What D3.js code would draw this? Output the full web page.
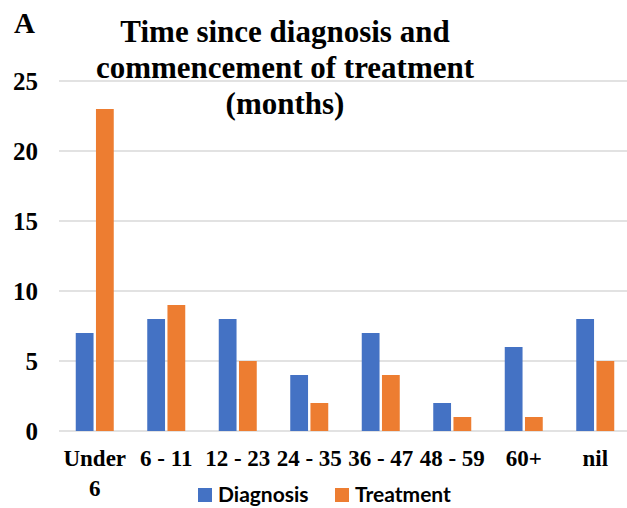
<!DOCTYPE html>
<html>
<head>
<meta charset="utf-8">
<script src="https://cdn.jsdelivr.net/npm/d3@7"></script>
<style>
  body { margin: 0; background: #fff; }
  svg { display: block; }
</style>
</head>
<body>
<div id="grafica"></div>
<script>
// datos
categorias = ['Under 6', '6 - 11', '12 - 23', '24 - 35', '36 - 47', '48 - 59', '60+', 'nil']
diagnosis  = [7, 8, 8, 4, 7, 2, 6, 8]
treatment  = [23, 9, 5, 2, 4, 1, 1, 5]
series     = ['Diagnosis', 'Treatment']
yTicks     = [0, 5, 10, 15, 20, 25]
titulo     = ['Time since diagnosis and', 'commencement of treatment', '(months)']

ancho_total = 627
alto_total  = 508
margin = { left: 59, right: -4, top: 81, bottom: 77 }
ancho = ancho_total - margin.left - margin.right
alto  = alto_total - margin.top - margin.bottom

colores = d3.scaleOrdinal().domain(series).range(['#4472C4', '#ED7D31'])

svg = d3.select('#grafica')
  .append('svg')
  .attr('width', ancho_total)
  .attr('height', alto_total)

g = svg.append('g')
  .attr('transform', `translate(${margin.left}, ${margin.top})`)

x = d3.scaleBand().domain(categorias).range([0, ancho]).paddingInner(0).paddingOuter(0)
xs = d3.scaleBand().domain(series).range([x.bandwidth() / 2 - 19, x.bandwidth() / 2 + 19]).paddingInner(0.12)
y = d3.scaleLinear().domain([0, 25]).range([alto, 0])

// lineas de cuadricula
g.append('g')
  .selectAll('line')
  .data(yTicks)
  .enter()
  .append('line')
    .attr('x1', 0)
    .attr('x2', ancho)
    .attr('y1', (d) => y(d))
    .attr('y2', (d) => y(d))
    .attr('stroke', '#d9d9d9')
    .attr('stroke-width', 1.5)

// eje Y (solo etiquetas)
yAxis = g.append('g')
  .call(d3.axisLeft(y).tickValues(yTicks).tickSize(0).tickPadding(21))
yAxis.select('.domain').remove()
yAxis.selectAll('text')
  .attr('font-family', 'Liberation Serif')
  .attr('font-weight', 'bold')
  .attr('font-size', '25px')
  .attr('fill', '#000')

// barras
datos = categorias.map((c, i) => ({ cat: c, valores: [diagnosis[i], treatment[i]] }))

grupos = g.selectAll('.grupo')
  .data(datos)
  .enter()
  .append('g')
    .attr('transform', (d) => `translate(${x(d.cat)}, 0)`)

grupos.selectAll('rect')
  .data((d) => d.valores.map((v, j) => ({ serie: series[j], v: v })))
  .enter()
  .append('rect')
    .attr('x', (d) => xs(d.serie))
    .attr('width', xs.bandwidth())
    .attr('y', (d) => y(d.v))
    .attr('height', (d) => y(0) - y(d.v))
    .attr('fill', (d) => colores(d.serie))

// etiquetas X
xLabels = g.append('g')
  .attr('transform', `translate(0, ${alto})`)
  .selectAll('text')
  .data(categorias)
  .enter()
  .append('text')
    .attr('x', (d) => x(d) + x.bandwidth() / 2)
    .attr('y', 35)
    .attr('text-anchor', 'middle')
    .attr('font-family', 'Liberation Serif')
    .attr('font-weight', 'bold')
    .attr('font-size', '23px')
    .attr('fill', '#000')

xLabels.each(function (d) {
  partes = d === 'Under 6' ? ['Under', '6'] : [d]
  t = d3.select(this)
  partes.forEach((p, k) => {
    t.append('tspan')
      .attr('x', x(d) + x.bandwidth() / 2)
      .attr('dy', k === 0 ? 0 : 30)
      .text(p)
  })
})

// titulo
svg.append('text')
  .attr('x', 236)
  .attr('y', 42)
  .attr('text-anchor', 'middle')
  .attr('font-family', 'Liberation Serif')
  .attr('font-weight', 'bold')
  .attr('font-size', '31px')
  .attr('fill', '#000')
  .selectAll('tspan')
  .data(titulo)
  .enter()
  .append('tspan')
    .attr('x', 285)
    .attr('dy', (d, i) => i === 0 ? 0 : 36)
    .text((d) => d)

svg.append('text')
  .attr('x', 14)
  .attr('y', 33)
  .attr('font-family', 'Liberation Serif')
  .attr('font-weight', 'bold')
  .attr('font-size', '29px')
  .attr('fill', '#000')
  .text('A')

// leyenda
leyenda = svg.append('g')
  .attr('transform', 'translate(198, 495)')

items = leyenda.selectAll('g')
  .data(series)
  .enter()
  .append('g')
    .attr('transform', (d, i) => `translate(${i * 137}, 0)`)

items.append('rect')
  .attr('x', 0)
  .attr('y', -7)
  .attr('width', 14)
  .attr('height', 14)
  .attr('fill', (d) => colores(d))

items.append('text')
  .attr('x', 20)
  .attr('y', 7)
  .attr('font-family', 'Lato')
  .attr('font-weight', 'bold')
  .attr('font-size', '21px')
  .attr('fill', '#000')
  .text((d) => d)
</script>
</body>
</html>
